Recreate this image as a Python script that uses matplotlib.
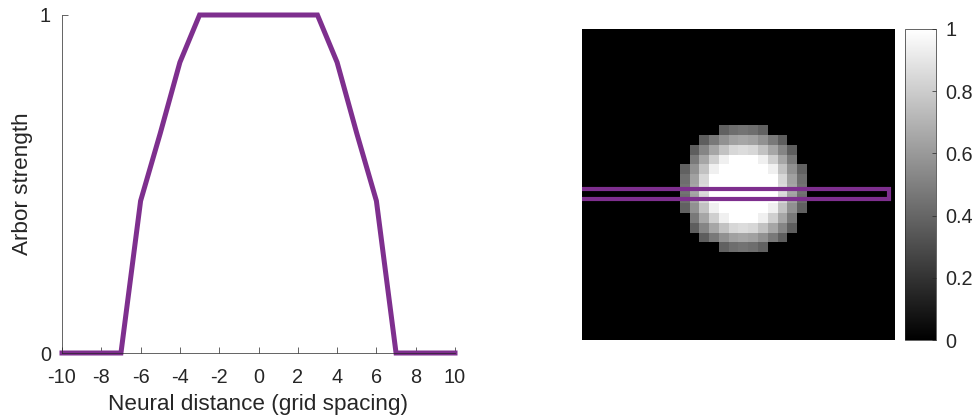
"""Arbor strength profile and 2D arbor image."""

import matplotlib.pyplot as plt
import numpy as np
from matplotlib.patches import Rectangle

plt.rcParams['font.family'] = ['Liberation Sans', 'DejaVu Sans']
plt.rcParams['axes.unicode_minus'] = False

# profile through the arbor centre
distance = np.arange(-10, 11)
strength = [0, 0, 0, 0, 0.45, 0.65, 0.86, 1, 1, 1, 1,
            1, 1, 1, 0.86, 0.65, 0.45, 0, 0, 0, 0]

# one quadrant of the arbor image, quadrant[dy][dx] for dx, dy = 0..6
quadrant = [
    [1.00, 1.00, 1.00, 1.00, 0.86, 0.65, 0.45],
    [1.00, 1.00, 1.00, 1.00, 0.84, 0.63, 0.43],
    [1.00, 1.00, 1.00, 0.94, 0.76, 0.57, 0.38],
    [1.00, 1.00, 0.94, 0.81, 0.65, 0.48, 0.00],
    [0.86, 0.84, 0.76, 0.65, 0.52, 0.37, 0.00],
    [0.65, 0.63, 0.57, 0.48, 0.37, 0.00, 0.00],
    [0.45, 0.43, 0.38, 0.00, 0.00, 0.00, 0.00],
]
grid_size = 32
centre = 16
colorbar_ticks = [0, 0.2, 0.4, 0.6, 0.8, 1]

purple = '#7E2F8E'
dark = '#262626'
tick_size = 14.3
label_size = 16.2

# build the full image from the quadrant by mirroring
q = np.array(quadrant)
half = np.vstack([q[::-1], q[1:]])
disc = np.hstack([half[:, ::-1], half[:, 1:]])
arbor = np.zeros((grid_size, grid_size))
r = len(quadrant) - 1
arbor[centre - r:centre + r + 1, centre - r:centre + r + 1] = disc

fig = plt.figure(figsize=(9.74, 4.19), dpi=100)

# left: profile
ax = fig.add_axes([62 / 974, 66 / 419, 393 / 974, 338 / 419])
ax.plot(distance, strength, color=purple, linewidth=3.6, clip_on=False,
        solid_joinstyle='miter')
ax.set_xlim(-10, 10)
ax.set_ylim(0, 1)
ax.set_xticks(np.arange(-10, 11, 2))
ax.set_yticks([0, 1])
for side in ['top', 'right']:
    ax.spines[side].set_visible(False)
for side in ['left', 'bottom']:
    ax.spines[side].set_color(dark)
    ax.spines[side].set_linewidth(0.5)
ax.tick_params(direction='in', length=4, width=0.5, color=dark,
               labelcolor=dark, labelsize=tick_size)
ax.tick_params(axis='x', pad=11)
ax.tick_params(axis='y', pad=8)
ax.set_xlabel('Neural distance (grid spacing)', fontsize=label_size,
              color=dark, labelpad=5)
ax.set_ylabel('Arbor strength', fontsize=label_size, color=dark, labelpad=5)

# right: arbor image with the profile strip
ax_img = fig.add_axes([582 / 974, 79 / 419, 313 / 974, 311 / 419])
im = ax_img.imshow(arbor, cmap='gray', vmin=0, vmax=1,
                   interpolation='nearest', aspect='auto')
ax_img.add_patch(Rectangle((-1.5, centre), 32.4, 1, fill=False,
                           edgecolor=purple, linewidth=3.0))
ax_img.set_xticks([])
ax_img.set_yticks([])
for s in ax_img.spines.values():
    s.set_visible(False)

cax = fig.add_axes([905 / 974, 79 / 419, 31 / 974, 311 / 419])
cb = fig.colorbar(im, cax=cax, ticks=colorbar_ticks)
cb.ax.set_yticklabels(['0', '0.2', '0.4', '0.6', '0.8', '1'])
cb.outline.set_edgecolor(dark)
cb.outline.set_linewidth(0.5)
cb.ax.tick_params(direction='in', length=3, width=0.5, color=dark,
                  labelcolor=dark, labelsize=tick_size, pad=7)

fig.savefig('out.png', dpi=100)
